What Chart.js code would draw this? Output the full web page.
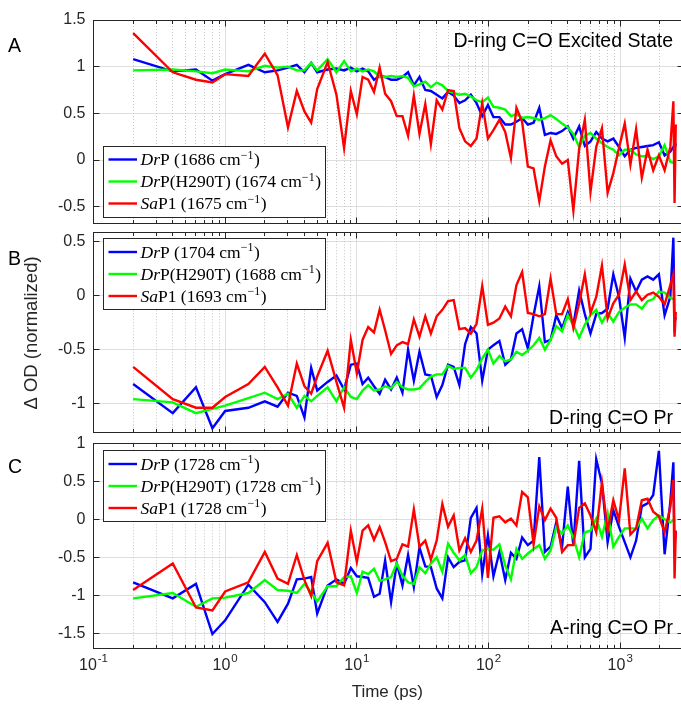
<!DOCTYPE html>
<html>
<head>
<meta charset="utf-8">
<title>D-ring / A-ring C=O kinetics</title>
<script src="https://cdn.jsdelivr.net/npm/chart.js@4.4.1/dist/chart.umd.min.js"></script>
<style>
  html, body { margin: 0; padding: 0; background: #fff; overflow: hidden; }
  #stage { position: relative; width: 681px; height: 709px; overflow: hidden; background: #fff; }
  #stage canvas { position: absolute; left: 0; top: 0; }
</style>
</head>
<body>
<div id="stage">
  <canvas id="panelA" width="700" height="709"></canvas>
  <canvas id="panelB" width="700" height="709"></canvas>
  <canvas id="panelC" width="700" height="709"></canvas>
</div>
<script>
// ---- delay times (ps) ----
const times = [0.2, 0.4, 0.6, 0.8, 1, 1.5, 2, 2.5, 3, 3.5, 4, 4.5, 5, 6, 7, 8, 9, 10,
  11.05, 12.2, 13.5, 14.9, 16.4, 18.2, 20.1, 22.2, 24.5, 27.1,
  29.9, 33.1, 36.5, 40.4, 44.6, 49.3, 54.4, 60.1, 66.4, 73.4,
  81.1, 89.6, 99, 109, 121, 134, 148, 163, 180, 199,
  220, 243, 268, 296, 327, 362, 400, 441, 488, 539,
  595, 658, 727, 803, 887, 980, 1083, 1196, 1321, 1460,
  1613, 1782, 1968, 2175, 2403, 2535, 2588, 2643];

// ---- A: D-ring C=O excited state ----
const aDrP = [1.08, 0.95, 0.97, 0.85, 0.92, 1.02, 0.94, 0.96, 0.99, 1.02, 0.94, 1.04, 0.94, 0.97, 0.98, 0.96, 0.99, 0.95,
  0.98, 0.95, 0.86, 0.90, 0.89, 0.86, 0.86, 0.89, 0.94, 0.80,
  0.89, 0.75, 0.74, 0.70, 0.66, 0.73, 0.69, 0.61, 0.64, 0.70,
  0.61, 0.47, 0.59, 0.46, 0.46, 0.38, 0.38, 0.41, 0.45, 0.38,
  0.40, 0.56, 0.27, 0.29, 0.28, 0.31, 0.36, 0.23, 0.36, 0.15,
  0.20, 0.30, 0.23, 0.20, 0.23, 0.14, 0.04, 0.11, 0.13, 0.14,
  0.15, 0.16, 0.19, 0.05, 0.09, 0.14, 0.11, 0.18];
const aH290T = [0.96, 0.97, 0.95, 0.93, 0.97, 0.95, 1.01, 0.99, 1.00, 0.96, 0.96, 1.04, 0.96, 1.08, 0.94, 1.06, 0.95, 0.98,
  0.95, 0.97, 0.95, 0.89, 0.89, 0.90, 0.89, 0.90, 0.88, 0.79,
  0.81, 0.84, 0.78, 0.83, 0.80, 0.74, 0.72, 0.70, 0.71, 0.68,
  0.64, 0.62, 0.67, 0.57, 0.56, 0.54, 0.47, 0.49, 0.45, 0.46,
  0.45, 0.43, 0.45, 0.48, 0.44, 0.39, 0.35, 0.28, 0.14, 0.26,
  0.29, 0.23, 0.18, 0.14, 0.11, 0.05, 0.11, 0.11, 0.06, 0.04,
  0.04, 0.01, 0.04, 0.16, -0.02, -0.03, -0.03, -0.02];
const aSaP1 = [1.36, 0.94, 0.86, 0.83, 0.92, 0.90, 1.14, 0.91, 0.35, 0.74, 0.52, 0.40, 0.76, 1.05, 0.70, 0.13, 0.74, 0.49,
  0.89, 0.86, 0.73, 0.99, 0.71, 0.63, 0.47, 0.47, 0.26, 0.69,
  0.28, 0.60, 0.17, 0.64, 0.54, 0.75, 0.74, 0.34, 0.20, 0.15,
  0.23, 0.61, 0.23, 0.32, 0.43, 0.30, 0.02, 0.56, 0.41, -0.07,
  -0.09, -0.44, -0.07, 0.21, 0.04, -0.04, 0.00, -0.54, 0.12, 0.43,
  -0.34, 0.14, 0.34, -0.35, -0.14, 0.13, 0.39, -0.05, 0.33, -0.19,
  0.11, -0.11, 0.05, -0.11, 0.14, 0.63, -0.46, 0.38];

// ---- B: D-ring C=O Pr ----
const bDrP = [-0.82, -1.09, -0.85, -1.23, -1.07, -1.04, -0.98, -1.03, -0.90, -0.93, -1.13, -0.67, -0.88, -0.80, -0.74, -0.87, -0.64, -0.63,
  -0.82, -0.76, -0.84, -0.91, -0.78, -0.87, -0.76, -0.90, -0.50, -0.79,
  -0.52, -0.73, -0.74, -0.94, -0.83, -0.64, -0.66, -0.83, -0.45, -0.29,
  -0.35, -0.79, -0.50, -0.46, -0.42, -0.64, -0.59, -0.35, -0.31, -0.49,
  -0.18, 0.09, -0.43, -0.41, -0.18, -0.30, -0.15, -0.27, 0.05, -0.17,
  -0.35, -0.17, -0.16, -0.12, 0.20, -0.01, -0.39, 0.16, 0.04, 0.15,
  0.18, 0.15, 0.20, -0.18, -0.01, 0.54, -0.25, -0.20];
const bH290T = [-0.96, -0.99, -1.09, -1.05, -1.02, -0.95, -0.90, -0.96, -0.91, -1.04, -0.93, -0.98, -0.93, -0.85, -0.98, -0.85, -0.94, -0.96,
  -0.88, -0.83, -0.88, -0.87, -0.84, -0.86, -0.80, -0.85, -0.87, -0.87,
  -0.86, -0.80, -0.75, -0.73, -0.73, -0.65, -0.68, -0.67, -0.67, -0.76,
  -0.69, -0.58, -0.50, -0.63, -0.56, -0.61, -0.59, -0.52, -0.55, -0.51,
  -0.46, -0.39, -0.50, -0.41, -0.28, -0.33, -0.18, -0.27, -0.39, -0.27,
  -0.18, -0.13, -0.25, -0.16, -0.24, -0.15, -0.11, -0.08, -0.08, -0.12,
  -0.05, -0.03, 0.04, 0.03, -0.02, -0.03, -0.03, -0.04];
const bSaP1 = [-0.66, -0.96, -1.04, -1.04, -0.94, -0.82, -0.66, -0.85, -1.02, -0.63, -0.84, -0.91, -0.75, -0.51, -0.80, -1.04, -0.41, -0.72,
  -0.41, -0.29, -0.34, -0.13, -0.32, -0.54, -0.46, -0.43, -0.45, -0.22,
  -0.38, -0.19, -0.35, -0.19, -0.13, -0.05, -0.04, -0.31, -0.30, -0.35,
  -0.26, 0.09, -0.27, -0.25, -0.21, -0.10, -0.19, 0.10, 0.22, -0.16,
  -0.17, -0.19, -0.17, 0.16, -0.17, -0.17, -0.03, -0.30, -0.07, 0.20,
  -0.16, -0.01, 0.28, -0.21, -0.07, 0.01, 0.29, -0.04, 0.04, -0.04,
  0.01, 0.03, -0.01, -0.08, 0.10, 0.20, -0.38, -0.15];

// ---- C: A-ring C=O Pr ----
const cDrP = [-0.83, -1.04, -0.85, -1.51, -1.33, -0.86, -1.09, -1.35, -1.11, -0.79, -0.78, -0.76, -1.24, -0.87, -0.79, -0.85, -0.64, -0.75,
  -0.76, -0.77, -1.02, -0.98, -0.54, -1.09, -0.58, -0.87, -0.47, -0.89,
  -0.37, -0.62, -0.63, -0.91, -1.04, -0.50, -0.63, -0.56, -0.54, 0.02,
  0.15, -0.72, -0.21, -0.75, -0.43, -0.80, -0.44, -0.52, -0.24, -0.34,
  -0.28, 0.82, -0.43, -0.36, -0.04, -0.36, 0.43, -0.35, 0.77, -0.50,
  -0.39, 0.79, 0.47, -0.30, 0.12, -0.10, -0.30, -0.50, -0.28, 0.17,
  0.21, 0.32, 0.90, -0.46, 0.23, 0.75, -0.36, -0.15];
const cH290T = [-1.04, -0.97, -1.15, -1.04, -1.03, -0.97, -0.80, -0.93, -0.94, -0.97, -0.85, -0.96, -1.08, -0.88, -0.88, -0.76, -0.75, -0.97,
  -0.69, -0.72, -0.65, -0.81, -0.79, -0.76, -0.58, -0.74, -0.83, -0.85,
  -0.63, -0.71, -0.58, -0.50, -0.69, -0.32, -0.44, -0.54, -0.47, -0.71,
  -0.63, -0.41, -0.39, -0.40, -0.33, -0.61, -0.79, -0.39, -0.52, -0.45,
  -0.39, -0.34, -0.52, -0.41, -0.10, -0.19, -0.08, -0.24, -0.50, -0.17,
  -0.15, 0.01, -0.23, 0.08, -0.36, -0.23, -0.12, -0.12, -0.12, 0.01,
  -0.12, -0.01, 0.05, 0.00, -0.04, -0.01, -0.02, -0.03];
const cSaP1 = [-0.93, -0.58, -1.16, -1.20, -0.95, -0.83, -0.43, -0.78, -0.85, -0.47, -0.80, -1.01, -0.55, -0.31, -0.83, -0.87, -0.15, -0.56,
  -0.15, -0.08, -0.27, -0.10, -0.30, -0.55, -0.52, -0.33, -0.36, 0.13,
  -0.36, -0.28, -0.53, -0.28, 0.20, -0.10, 0.05, -0.41, -0.25, -0.43,
  -0.28, 0.14, -0.77, 0.02, 0.04, -0.04, 0.01, -0.08, 0.36, 0.29,
  -0.33, 0.17, -0.01, 0.14, 0.02, -0.43, -0.34, -0.34, 0.15, 0.21,
  0.05, -0.17, 0.48, -0.15, 0.25, -0.01, 0.67, -0.20, -0.12, 0.25,
  0.27, 0.10, 0.04, -0.17, 0.16, 0.52, -0.78, -0.15];

// ---- labels ----
const sampleItalic = ['Dr', 'Dr', 'Sa'];
const sampleRest = ['P', 'P(H290T)', 'P1'];
const wavenumbersA = [1686, 1674, 1675];
const wavenumbersB = [1704, 1688, 1693];
const wavenumbersC = [1728, 1728, 1728];
const xDecades = [-1, 0, 1, 2, 3];
const seriesColors = ['#0000ff', '#00ff00', '#ff0000'];

const SANS = '"Liberation Sans", Arial, Helvetica, sans-serif';
const SERIF = '"Liberation Serif", "Times New Roman", serif';
const INK = '#262626';
const X_MIN = 0.1, X_MAX = 3000;

function lineSet(values, idx) {
  return {
    data: times.map((t, i) => ({ x: t, y: values[i] })),
    borderColor: seriesColors[idx],
    borderWidth: 2.4,
    pointRadius: 0,
    tension: 0,
    fill: false,
    order: 3 - idx
  };
}

function crisp(v) { return Math.round(v - 0.5) + 0.5; }

// tick text like 1.5, 1, 0.5, 0, -0.5
function tickText(v) { return String(Math.round(v * 100) / 100); }

function makeDecor(cfg) {
  return {
    id: 'decor' + cfg.letter,
    beforeDatasetsDraw(chart) {
      const { ctx, chartArea: a, scales: { x } } = chart;
      ctx.save();
      ctx.beginPath(); ctx.rect(a.left, a.top, a.right - a.left, a.bottom - a.top); ctx.clip();
      // minor (dotted) then major (solid) vertical grid
      ctx.lineWidth = 1;
      ctx.strokeStyle = '#c4c4c4';
      ctx.setLineDash([1, 2]);
      for (const d of xDecades) {
        for (let m = 2; m <= 9; m++) {
          const v = m * Math.pow(10, d);
          if (v > X_MAX) continue;
          const px = crisp(x.getPixelForValue(v));
          ctx.beginPath(); ctx.moveTo(px, a.top); ctx.lineTo(px, a.bottom); ctx.stroke();
        }
      }
      ctx.setLineDash([]);
      ctx.strokeStyle = '#dedede';
      for (const d of xDecades) {
        const px = crisp(x.getPixelForValue(Math.pow(10, d)));
        ctx.beginPath(); ctx.moveTo(px, a.top); ctx.lineTo(px, a.bottom); ctx.stroke();
      }
      ctx.restore();
    },
    afterDatasetsDraw(chart) {
      const { ctx, chartArea: a, scales: { x, y } } = chart;
      const L = crisp(a.left), R = crisp(a.right), T = crisp(a.top), B = crisp(a.bottom);
      ctx.save();
      ctx.strokeStyle = INK;
      ctx.lineWidth = 1;
      ctx.strokeRect(L, T, R - L, B - T);
      ctx.beginPath();
      for (const d of xDecades) {
        for (let m = 1; m <= 9; m++) {
          const v = m * Math.pow(10, d);
          if (v > X_MAX) continue;
          const len = m === 1 ? 6 : 3.5;
          const px = crisp(x.getPixelForValue(v));
          ctx.moveTo(px, B); ctx.lineTo(px, B - len);
          ctx.moveTo(px, T); ctx.lineTo(px, T + len);
        }
      }
      for (const t of y.ticks) {
        const py = crisp(y.getPixelForValue(t.value));
        ctx.moveTo(L, py); ctx.lineTo(L + 6, py);
        ctx.moveTo(R, py); ctx.lineTo(R - 6, py);
      }
      ctx.stroke();
      ctx.restore();
    },
    afterDraw(chart) {
      const { ctx, chartArea: a, scales: { x } } = chart;
      ctx.save();
      // legend
      const bx = a.left + 10, bw = 221.5, bh = 71, by = cfg.legendTop;
      ctx.fillStyle = '#ffffff';
      ctx.fillRect(bx, by, bw, bh);
      ctx.strokeStyle = INK; ctx.lineWidth = 1;
      ctx.strokeRect(crisp(bx), crisp(by), Math.round(bw), Math.round(bh));
      for (let i = 0; i < 3; i++) {
        const ry = by + 13.5 + i * 22;
        ctx.strokeStyle = seriesColors[i];
        ctx.lineWidth = 2.4;
        ctx.beginPath(); ctx.moveTo(bx + 5, ry); ctx.lineTo(bx + 33.5, ry); ctx.stroke();
        ctx.fillStyle = '#000';
        ctx.textBaseline = 'alphabetic';
        ctx.textAlign = 'left';
        let cx = bx + 37;
        const base = ry + 5.5;
        const parts = [
          { t: sampleItalic[i], f: 'italic 17.5px ' + SERIF, dy: 0 },
          { t: sampleRest[i] + ' (' + cfg.wavenumbers[i] + ' cm', f: '17.5px ' + SERIF, dy: 0 },
          { t: '\u22121', f: '12px ' + SERIF, dy: -6.5 },
          { t: ')', f: '17.5px ' + SERIF, dy: 0 }
        ];
        for (const p of parts) {
          ctx.font = p.f;
          ctx.fillText(p.t, cx, base + p.dy);
          cx += ctx.measureText(p.t).width;
          if (p.t === '\u22121') cx += 0.5;
        }
      }
      // panel title inside the axes
      ctx.fillStyle = '#000';
      ctx.font = '19.5px ' + SANS;
      ctx.textAlign = 'right';
      ctx.textBaseline = 'alphabetic';
      ctx.fillText(cfg.title, 673, cfg.titleBase);
      // panel letter
      ctx.textAlign = 'left';
      ctx.fillText(cfg.letter, 8, cfg.letterBase);
      // shared y label (middle panel)
      if (cfg.yLabel) {
        ctx.save();
        ctx.translate(37, 333);
        ctx.rotate(-Math.PI / 2);
        ctx.textAlign = 'center';
        ctx.textBaseline = 'alphabetic';
        ctx.fillStyle = INK;
        ctx.font = '18.5px ' + SANS;
        ctx.fillText('\u0394 OD (normalized)', 0, 0);
        ctx.restore();
      }
      // time axis labels (bottom panel)
      if (cfg.xLabels) {
        ctx.fillStyle = INK;
        ctx.textBaseline = 'alphabetic';
        ctx.textAlign = 'left';
        for (const d of xDecades) {
          const px = x.getPixelForValue(Math.pow(10, d));
          ctx.font = '16px ' + SANS;
          const wb = ctx.measureText('10').width;
          ctx.font = '11.5px ' + SANS;
          const exp = String(d);
          const we = ctx.measureText(exp).width;
          const start = px - (wb + we + 1) / 2;
          ctx.font = '16px ' + SANS;
          ctx.fillText('10', start, 670);
          ctx.font = '11.5px ' + SANS;
          ctx.fillText(exp, start + wb + 1, 662);
        }
        ctx.font = '17px ' + SANS;
        ctx.textAlign = 'center';
        ctx.fillText('Time (ps)', (a.left + 681) / 2, 697);
      }
      ctx.restore();
    }
  };
}

function makePanel(id, cfg) {
  new Chart(document.getElementById(id), {
    type: 'line',
    data: { datasets: cfg.series.map((s, i) => lineSet(s, i)) },
    options: {
      responsive: false,
      animation: false,
      devicePixelRatio: 1,
      events: [],
      layout: { padding: { left: 0, right: 700 - 683, top: cfg.top, bottom: 709 - cfg.bottom } },
      plugins: { legend: { display: false }, tooltip: { enabled: false } },
      scales: {
        x: {
          type: 'logarithmic', min: X_MIN, max: X_MAX,
          ticks: { display: false }, grid: { display: false }, border: { display: false },
          afterFit(s) { s.height = 0; }
        },
        y: {
          type: 'linear', min: cfg.yMin, max: cfg.yMax,
          ticks: { stepSize: 0.5, includeBounds: false, color: INK, padding: 8,
                   font: { family: SANS, size: 16 }, callback: tickText },
          grid: { color: '#dedede', lineWidth: 1, drawTicks: false },
          border: { display: false },
          afterFit(s) { s.width = 93.5; }
        }
      }
    },
    plugins: [makeDecor(cfg)]
  });
}

makePanel('panelA', {
  letter: 'A', series: [aDrP, aH290T, aSaP1], wavenumbers: wavenumbersA,
  top: 20, bottom: 223.5, yMin: -0.68, yMax: 1.5,
  legendTop: 146, title: 'D-ring C=O Excited State', titleBase: 47, letterBase: 52
});
makePanel('panelB', {
  letter: 'B', series: [bDrP, bH290T, bSaP1], wavenumbers: wavenumbersB,
  top: 232.3, bottom: 432.5, yMin: -1.27, yMax: 0.59,
  legendTop: 238.5, title: 'D-ring C=O Pr', titleBase: 423.5, letterBase: 265, yLabel: true
});
makePanel('panelC', {
  letter: 'C', series: [cDrP, cH290T, cSaP1], wavenumbers: wavenumbersC,
  top: 443.3, bottom: 648.5, yMin: -1.7, yMax: 1.0,
  legendTop: 450.5, title: 'A-ring C=O Pr', titleBase: 634, letterBase: 473, xLabels: true
});
</script>
</body>
</html>
